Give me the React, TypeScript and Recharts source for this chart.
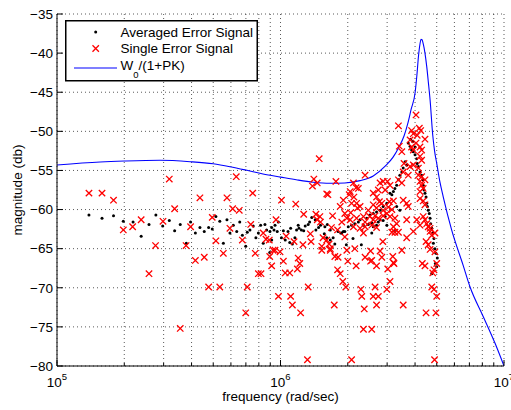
import {
  ComposedChart,
  Scatter,
  Line,
  XAxis,
  YAxis,
  CartesianGrid,
  Legend,
} from 'recharts';

// [frequency (rad/sec), magnitude (db)]
const averagedSignal: [number, number][] = [
  [1.39e5, -60.7], [1.59e5, -61.1], [1.79e5, -60.8], [1.98e5, -61.5], [2.19e5, -61.6],
  [2.38e5, -63.4], [2.58e5, -61.9], [2.77e5, -60.7], [2.97e5, -62.1], [3.18e5, -61.4],
  [3.36e5, -62.7], [3.56e5, -61.9], [3.79e5, -64.3], [3.96e5, -61.6], [4.16e5, -63.0],
  [4.36e5, -62.3], [4.56e5, -62.8], [4.77e5, -62.3], [4.95e5, -62.5], [5.14e5, -60.9],
  [5.35e5, -61.5], [5.55e5, -64.3], [5.76e5, -61.3], [5.94e5, -63.0], [6.15e5, -62.0],
  [6.37e5, -62.8], [6.57e5, -61.6], [6.75e5, -63.3], [6.99e5, -64.7], [7.1e5, -62.9],
  [7.3e5, -62.6], [7.55e5, -62.1], [7.76e5, -63.6], [7.96e5, -63.0], [8.15e5, -62.0],
  [8.52e5, -61.9], [8.67e5, -62.6], [9.13e5, -62.3], [9.45e5, -62.0], [9.78e5, -61.6],
  [9.35e5, -62.6], [9.67e5, -62.8], [1.01e6, -63.6], [1.03e6, -62.7], [1.08e6, -62.8],
  [1.11e6, -62.4], [1.10e6, -64.2], [1.18e6, -62.6], [1.21e6, -62.4], [1.24e6, -62.6],
  [1.27e6, -62.7], [1.20e6, -62.0], [1.29e6, -62.1], [1.33e6, -61.9], [1.35e6, -61.6],
  [1.38e6, -61.0], [1.43e6, -61.3], [1.44e6, -62.6], [1.48e6, -62.3], [1.51e6, -62.0],
  [1.58e6, -62.2], [1.62e6, -61.9], [1.67e6, -62.6], [1.57e6, -63.1], [1.61e6, -63.6],
  [1.67e6, -63.9], [1.72e6, -63.6], [1.75e6, -64.4], [1.81e6, -62.8], [1.86e6, -63.0],
  [1.91e6, -62.8], [1.13e6, -64.4], [1.16e6, -63.6], [1.05e6, -63.9], [9.13e5, -63.9],
  [8.95e5, -65.5], [8.37e5, -64.3], [8.97e5, -62.8], [1.88e6, -63.0], [1.94e6, -62.8],
  [2.01e6, -62.2], [2.08e6, -62.0], [2.15e6, -61.8], [2.23e6, -61.6], [2.35e6, -62.0],
  [2.47e6, -61.9], [2.56e6, -61.7], [2.60e6, -62.2], [2.69e6, -62.0], [2.79e6, -61.3],
  [2.88e6, -61.4], [2.11e6, -63.7], [2.30e6, -64.5], [1.97e6, -64.5], [2.56e6, -63.0],
  [2.99e6, -62.0], [3.25e6, -62.8], [2.27e6, -61.3], [2.43e6, -61.1], [2.51e6, -60.7],
  [2.60e6, -60.5], [2.69e6, -60.3], [2.79e6, -60.1], [2.88e6, -59.6], [2.99e6, -59.2],
  [3.31e6, -59.6], [3.42e6, -60.1], [2.94e6, -60.9], [2.74e6, -61.6], [3.09e6, -57.9],
  [3.15e6, -58.1], [3.20e6, -57.7], [3.25e6, -57.3], [3.31e6, -56.9], [3.37e6, -56.2],
  [3.42e6, -55.6], [3.49e6, -55.2], [3.54e6, -54.7], [3.67e6, -54.3], [3.61e6, -53.9],
  [3.73e6, -51.5], [3.80e6, -51.9], [3.86e6, -52.4], [3.93e6, -52.6], [4.00e6, -52.0],
  [3.90e6, -51.3], [3.82e6, -51.0], [4.00e6, -53.0], [4.07e6, -53.5], [4.09e6, -54.1],
  [4.14e6, -54.5], [4.21e6, -55.2], [4.28e6, -55.6], [4.33e6, -56.2], [4.35e6, -56.9],
  [4.39e6, -57.5], [4.43e6, -57.9], [4.48e6, -58.4], [4.51e6, -59.2], [4.54e6, -59.6],
  [4.58e6, -60.1], [4.63e6, -60.5], [4.67e6, -61.1], [4.70e6, -61.8], [4.75e6, -62.4],
  [4.80e6, -63.0], [4.86e6, -63.7], [4.83e6, -64.3], [4.91e6, -65.0], [4.96e6, -65.6],
  [5.03e6, -66.2], [4.93e6, -66.9], [5.00e6, -67.3], [4.75e6, -68.2],
];

const singleSignal: [number, number][] = [
  [1.39e5, -57.9], [1.59e5, -57.9], [1.79e5, -58.8], [1.98e5, -62.6], [2.18e5, -62.2],
  [2.38e5, -61.3], [2.76e5, -64.6], [2.98e5, -61.5], [3.18e5, -56.1], [3.36e5, -59.9],
  [3.78e5, -64.6], [3.96e5, -62.2], [4.36e5, -58.5], [4.16e5, -66.5], [4.56e5, -66.1],
  [4.95e5, -61.0], [5.14e5, -64.0], [5.55e5, -65.6], [5.76e5, -58.5], [6.34e5, -55.8],
  [5.94e5, -62.4], [6.11e5, -59.9], [6.54e5, -60.1], [6.75e5, -63.9], [7.51e5, -57.9],
  [7.36e5, -61.9], [7.71e5, -65.6], [2.58e5, -68.2], [4.77e5, -69.9], [5.35e5, -69.9],
  [3.56e5, -75.2], [6.99e5, -73.2], [7.1e5, -69.9], [7.96e5, -68.2], [8.18e5, -68.2],
  [9.13e5, -67.2], [1.03e6, -66.6], [1.22e6, -66.9], [1.19e6, -67.6], [1.05e6, -68.1],
  [1.10e6, -68.1], [9.79e5, -71.1], [1.11e6, -71.1], [1.13e6, -72.2], [1.23e6, -73.2],
  [1.33e6, -69.9], [1.32e6, -79.2], [1.74e6, -72.2], [1.80e6, -67.7], [1.85e6, -68.2],
  [1.90e6, -69.2], [1.96e6, -69.9], [2.00e6, -66.6], [2.18e6, -67.2], [2.08e6, -79.2],
  [2.29e6, -70.2], [2.31e6, -71.1], [2.37e6, -72.7], [2.35e6, -75.3], [2.56e6, -75.3],
  [2.60e6, -71.1], [2.74e6, -71.1], [2.65e6, -69.9], [2.69e6, -72.2], [2.69e6, -67.2],
  [2.53e6, -66.6], [2.99e6, -70.2], [3.09e6, -69.2], [3.02e6, -67.6], [3.22e6, -66.9],
  [3.54e6, -72.2], [4.31e6, -66.9], [4.43e6, -67.2], [4.80e6, -68.1], [4.86e6, -67.7],
  [4.75e6, -69.9], [4.86e6, -70.2], [5.00e6, -71.1], [4.48e6, -73.2], [4.96e6, -73.2],
  [4.89e6, -79.2], [8.95e5, -66.0], [9.45e5, -65.2], [9.95e5, -65.4], [1.53e6, -65.2],
  [1.67e6, -65.2], [1.75e6, -66.0], [1.81e6, -66.1], [1.49e6, -53.5], [1.01e6, -58.8],
  [1.17e6, -59.3], [1.41e6, -56.1], [1.39e6, -57.0], [1.46e6, -56.6], [1.77e6, -56.4],
  [1.61e6, -58.0], [1.63e6, -58.1], [1.91e6, -58.8], [9.55e5, -61.3], [1.27e6, -60.6],
  [1.44e6, -60.6], [1.50e6, -60.9], [1.46e6, -61.3], [1.51e6, -61.6], [1.71e6, -60.8],
  [1.88e6, -61.6], [8.37e5, -63.0], [8.61e5, -63.8], [8.91e5, -63.9], [1.06e6, -63.4],
  [1.15e6, -64.1], [1.36e6, -63.1], [1.37e6, -64.1], [1.26e6, -64.5], [1.55e6, -63.6],
  [1.61e6, -63.9], [1.65e6, -64.4], [1.69e6, -62.3], [1.80e6, -62.6], [1.53e6, -64.7],
  [1.67e6, -65.0], [9.26e5, -65.2], [1.20e6, -66.2], [2.39e6, -55.6], [2.05e6, -57.7],
  [2.03e6, -58.1], [2.18e6, -57.2], [2.13e6, -58.4], [2.08e6, -59.2], [2.21e6, -59.8],
  [2.06e6, -60.4], [1.94e6, -60.5], [1.85e6, -59.6], [4.04e6, -47.9], [3.37e6, -49.3],
  [3.86e6, -49.9], [4.18e6, -49.6], [4.24e6, -49.9], [4.09e6, -50.5], [3.93e6, -50.3],
  [4.43e6, -51.0], [3.80e6, -51.1], [3.86e6, -52.0], [3.93e6, -52.4], [4.04e6, -51.5],
  [4.21e6, -52.0], [4.28e6, -52.4], [3.40e6, -51.9], [3.49e6, -52.6], [4.21e6, -53.2],
  [4.28e6, -53.7], [3.57e6, -54.1], [3.80e6, -54.5], [3.93e6, -54.3], [4.14e6, -54.7],
  [3.54e6, -55.2], [3.73e6, -55.6], [4.14e6, -55.6], [4.28e6, -55.8], [4.43e6, -56.2],
  [2.88e6, -56.4], [3.01e6, -56.4], [3.09e6, -56.9], [2.94e6, -57.5], [3.37e6, -56.2],
  [3.49e6, -56.6], [4.21e6, -56.4], [4.28e6, -56.9], [4.35e6, -57.3], [4.21e6, -57.7],
  [2.12e6, -56.6], [2.23e6, -57.3], [2.79e6, -56.6], [2.74e6, -57.5], [2.19e6, -59.2],
  [2.60e6, -57.9], [2.69e6, -58.4], [2.77e6, -59.0], [2.84e6, -59.2], [3.07e6, -59.0],
  [3.20e6, -58.9], [3.54e6, -58.8], [3.67e6, -59.2], [3.73e6, -59.6], [4.21e6, -58.6],
  [4.35e6, -58.9], [4.43e6, -59.4], [2.27e6, -59.6], [2.47e6, -60.1], [2.60e6, -59.4],
  [2.69e6, -59.8], [2.88e6, -60.1], [3.04e6, -59.7], [3.15e6, -60.0], [1.98e6, -61.1],
  [2.05e6, -61.3], [2.19e6, -61.1], [2.35e6, -60.9], [2.39e6, -61.6], [2.51e6, -60.9],
  [2.60e6, -61.3], [2.65e6, -60.8], [2.74e6, -61.1], [2.88e6, -60.8], [2.99e6, -60.5],
  [3.09e6, -60.9], [3.25e6, -61.1], [3.31e6, -61.8], [3.20e6, -62.2], [2.56e6, -62.0],
  [2.69e6, -62.3], [3.67e6, -61.3], [4.07e6, -61.3], [4.21e6, -62.0], [4.35e6, -60.9],
  [4.43e6, -61.3], [4.51e6, -61.8], [4.58e6, -62.2], [4.67e6, -62.4], [2.12e6, -62.2],
  [2.27e6, -62.4], [2.39e6, -62.2], [3.25e6, -62.9], [3.37e6, -62.9], [3.15e6, -62.9],
  [4.67e6, -62.8], [4.75e6, -63.3], [4.91e6, -63.0], [3.93e6, -62.8], [3.67e6, -63.6],
  [2.87e6, -64.1], [4.48e6, -64.1], [4.58e6, -64.5], [4.67e6, -65.1], [4.91e6, -65.4],
  [2.35e6, -63.0], [1.94e6, -63.5], [2.15e6, -65.0], [1.98e6, -65.2], [2.53e6, -65.3],
  [2.79e6, -65.3], [3.49e6, -65.2], [2.39e6, -66.1], [2.56e6, -66.5], [2.84e6, -66.1],
  [3.18e6, -66.0], [3.20e6, -66.8], [5.00e6, -66.9],
];

// W0/(1+PK)
const closedLoop: [number, number][] = [
  [1e5, -54.3], [1.56e5, -53.92], [2.0e5, -53.8], [2.89e5, -53.7], [3.94e5, -53.88],
  [5.0e5, -54.15], [5.94e5, -54.52], [7.0e5, -54.95], [8.35e5, -55.45], [1.0e6, -55.85],
  [1.19e6, -56.22], [1.4e6, -56.5], [1.66e6, -56.64], [1.94e6, -56.6], [2.27e6, -56.3],
  [2.6e6, -55.7], [2.94e6, -54.45], [3.19e6, -53.3], [3.39e6, -52.0], [3.57e6, -50.6],
  [3.72e6, -48.9], [3.84e6, -47.2], [4.0e6, -45.1], [4.08e6, -42.7], [4.14e6, -40.5],
  [4.21e6, -38.8], [4.25e6, -38.25], [4.30e6, -38.3], [4.35e6, -38.8], [4.43e6, -40.0],
  [4.51e6, -41.7], [4.59e6, -43.8], [4.67e6, -46.0], [4.80e6, -50.5], [4.89e6, -52.5],
  [5.0e6, -54.1], [5.17e6, -56.5], [5.35e6, -58.4], [5.83e6, -62.6], [6.56e6, -67.1],
  [7.05e6, -69.9], [8.08e6, -73.7], [9.12e6, -77.1], [1e7, -80],
];

const xTicks = [
  1e5, 2e5, 3e5, 4e5, 5e5, 6e5, 7e5, 8e5, 9e5,
  1e6, 2e6, 3e6, 4e6, 5e6, 6e6, 7e6, 8e6, 9e6, 1e7,
];
const yTicks = [-80, -75, -70, -65, -60, -55, -50, -45, -40, -35];

const toPoints = (rows: [number, number][]) => rows.map(([f, db]) => ({ f, db }));

const FONT = '"Liberation Sans", Arial, Helvetica, sans-serif';
const W = 511;
const H = 410;
const MARGIN = { top: 14, right: 7, left: 0, bottom: 0 };
const Y_AXIS_W = 57;
const X_AXIS_H = 44;
const TICK_GAP = 4;
const PLOT_LEFT = MARGIN.left + Y_AXIS_W;
const PLOT_RIGHT = W - MARGIN.right;
const PLOT_TOP = MARGIN.top;
const PLOT_BOTTOM = H - MARGIN.bottom - X_AXIS_H;

const isDecade = (v: number) => {
  const l = Math.log10(v);
  return Math.abs(l - Math.round(l)) < 1e-6;
};

const fmtDb = (v: number) => (v < 0 ? `\u2212${Math.abs(v)}` : `${v}`);

function BottomTick({ x, y, payload }: any) {
  const v = payload.value;
  const axisY = y - TICK_GAP;
  const major = isDecade(v);
  return (
    <g>
      <line x1={x} x2={x} y1={axisY} y2={axisY - (major ? 6 : 3)} stroke="#000" />
      {major && (
        <text x={x} y={axisY + 21} textAnchor="middle" fontSize={13.5} fontFamily={FONT} fill="#000">
          10
          <tspan dy={-7} fontSize={9.5}>
            {Math.round(Math.log10(v))}
          </tspan>
        </text>
      )}
    </g>
  );
}

function TopTick({ x, y, payload }: any) {
  const major = isDecade(payload.value);
  return <line x1={x} x2={x} y1={y} y2={y + (major ? 6 : 3)} stroke="#000" />;
}

function LeftTick({ x, y, payload }: any) {
  const axisX = x + TICK_GAP;
  return (
    <g>
      <line x1={axisX} x2={axisX + 6} y1={y} y2={y} stroke="#000" />
      <text x={x} y={y} dy={4.8} textAnchor="end" fontSize={13.5} fontFamily={FONT} fill="#000">
        {fmtDb(payload.value)}
      </text>
    </g>
  );
}

function RightTick({ x, y }: any) {
  return <line x1={x - 6} x2={x} y1={y} y2={y} stroke="#000" />;
}

function Cross({ cx, cy }: any) {
  const s = 3.2;
  return (
    <path
      d={`M${cx - s},${cy - s}L${cx + s},${cy + s}M${cx - s},${cy + s}L${cx + s},${cy - s}`}
      stroke="#ff0000"
      strokeWidth={1.3}
      fill="none"
    />
  );
}

function Dot({ cx, cy }: any) {
  return <circle cx={cx} cy={cy} r={1.5} fill="#000" />;
}

function LegendBox() {
  return (
    <svg width={194} height={62} style={{ display: 'block' }}>
      <rect x={0.75} y={0.75} width={191.5} height={60} fill="#fff" stroke="#000" strokeWidth={1.5} />
      <circle cx={30.7} cy={12} r={1.5} fill="#000" />
      <Cross cx={30.7} cy={28.5} />
      <line x1={9} x2={52} y1={48} y2={48} stroke="#0000ff" strokeWidth={1.1} />
      <g fontFamily={FONT} fontSize={13.5} fill="#000">
        <text x={55.5} y={16.5}>Averaged Error Signal</text>
        <text x={55.5} y={33}>Single Error Signal</text>
        <text x={55.5} y={50}>
          W<tspan dy={8} fontSize={9.5}>0</tspan>
          <tspan dy={-8}>/(1+PK)</tspan>
        </text>
      </g>
    </svg>
  );
}

export default function App() {
  const avg = toPoints(averagedSignal);
  const single = toPoints(singleSignal);
  const curve = toPoints(closedLoop);

  return (
    <div style={{ position: 'absolute', left: 0, top: 0, width: W, height: H, background: '#fff' }}>
      <ComposedChart width={W} height={H} margin={MARGIN}>
        <CartesianGrid
          stroke="#000"
          strokeOpacity={0.65}
          strokeDasharray="1 3"
          fill="#fff"
        />
        <XAxis
          dataKey="f"
          type="number"
          scale="log"
          domain={[1e5, 1e7]}
          allowDataOverflow
          ticks={xTicks}
          interval={0}
          height={X_AXIS_H}
          tickSize={0}
          tickMargin={TICK_GAP}
          tick={(p: any) => <BottomTick {...p} />}
          axisLine={{ stroke: '#000' }}
          tickLine={false}
        />
        <XAxis
          xAxisId="top"
          orientation="top"
          dataKey="f"
          type="number"
          scale="log"
          domain={[1e5, 1e7]}
          allowDataOverflow
          ticks={xTicks}
          interval={0}
          height={0}
          tickSize={0}
          tickMargin={0}
          tick={(p: any) => <TopTick {...p} />}
          axisLine={{ stroke: '#000' }}
          tickLine={false}
        />
        <YAxis
          dataKey="db"
          type="number"
          domain={[-80, -35]}
          allowDataOverflow
          ticks={yTicks}
          interval={0}
          width={Y_AXIS_W}
          tickSize={0}
          tickMargin={TICK_GAP}
          tick={(p: any) => <LeftTick {...p} />}
          axisLine={{ stroke: '#000' }}
          tickLine={false}
        />
        <YAxis
          yAxisId="right"
          orientation="right"
          dataKey="db"
          type="number"
          domain={[-80, -35]}
          allowDataOverflow
          ticks={yTicks}
          interval={0}
          width={0}
          tickSize={0}
          tickMargin={0}
          tick={(p: any) => <RightTick {...p} />}
          axisLine={{ stroke: '#000' }}
          tickLine={false}
        />
        <Legend
          layout="vertical"
          align="center"
          verticalAlign="middle"
          wrapperStyle={{ left: 65, top: 20, width: 194, height: 62 }}
          content={() => <LegendBox />}
        />
        <Scatter
          name="Averaged Error Signal"
          data={avg}
          shape={(p: any) => <Dot cx={p.cx} cy={p.cy} />}
          isAnimationActive={false}
        />
        <Scatter
          name="Single Error Signal"
          data={single}
          shape={(p: any) => <Cross cx={p.cx} cy={p.cy} />}
          isAnimationActive={false}
        />
        <Line
          name="W0/(1+PK)"
          data={curve}
          dataKey="db"
          type="monotone"
          stroke="#0000ff"
          strokeWidth={1.1}
          dot={false}
          activeDot={false}
          isAnimationActive={false}
        />
      </ComposedChart>
      <svg
        width={W}
        height={H}
        style={{ position: 'absolute', left: 0, top: 0, pointerEvents: 'none' }}
      >
        <g fontFamily={FONT} fontSize={13.5} fill="#000">
          <text
            x={22}
            y={(PLOT_TOP + PLOT_BOTTOM) / 2}
            textAnchor="middle"
            transform={`rotate(-90 22 ${(PLOT_TOP + PLOT_BOTTOM) / 2})`}
          >
            magnitude (db)
          </text>
          <text x={(PLOT_LEFT + PLOT_RIGHT) / 2} y={401} textAnchor="middle">
            frequency (rad/sec)
          </text>
        </g>
      </svg>
    </div>
  );
}
